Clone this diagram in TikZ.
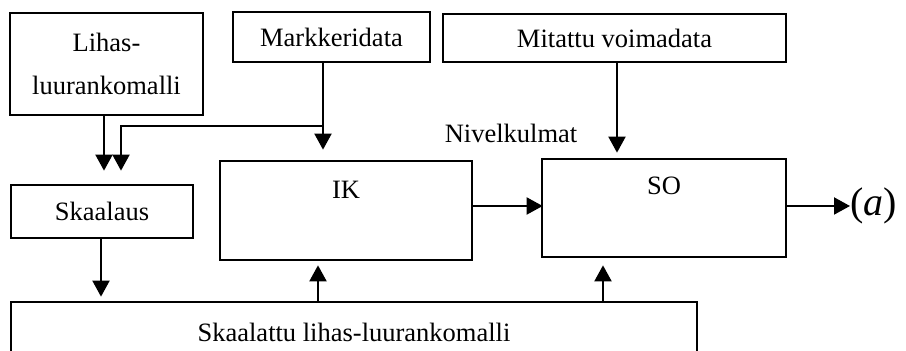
\documentclass[tikz,border=0pt]{standalone}
\usepackage{fontspec}
\setmainfont{Liberation Serif}
\usetikzlibrary{arrows.meta}
\tikzset{
  box/.style={draw, line width=0.65pt, inner sep=0pt, align=center, font=\fontsize{13.25}{21.5}\selectfont},
  arr/.style={line width=1pt, -{Triangle[width=8.5pt,length=8pt]}},
  lbl/.style={font=\fontsize{13.25}{16}\selectfont, inner sep=0pt}
}
\begin{document}
\begin{tikzpicture}[x=0.5pt,y=-0.5pt]
\clip (0,0) rectangle (906,351);
\useasboundingbox (0,0) rectangle (906,351);
\node[box, minimum width=96.5pt, minimum height=51pt] (lihas) at (106.5,64) {Lihas-\\luurankomalli};
\node[box, minimum width=98.5pt, minimum height=25pt] (mark) at (331.5,37) {Markkeridata};
\node[box, minimum width=171.5pt, minimum height=24pt] (mit) at (614.5,38) {Mitattu voimadata};
\node[box, minimum width=91pt, minimum height=26.5pt] (skaal) at (102,211.5) {Skaalaus};
\node[box, minimum width=126pt, minimum height=49.5pt,
      label={[lbl, anchor=center, yshift=-14.5pt]north:IK}] (ik) at (346,210.5) {};
\node[box, minimum width=122pt, minimum height=49pt,
      label={[lbl, anchor=center, yshift=-14pt]north:SO}] (so) at (664,208) {};
\node[box, minimum width=343pt, minimum height=30pt] (sk) at (354,332) {Skaalattu lihas-luurankomalli};
\node[lbl] (niv) at (511,133) {Nivelkulmat};
\node[inner sep=0pt, anchor=west, font=\fontsize{20}{24}\selectfont] (out) at (850,206) {(\textit{a})};

\draw[arr] ([xshift=-1.25pt]lihas.south) -- ++(0,55);
\draw[arr] ([xshift=-4.25pt]mark.south) -- ++(0,87);
\draw[arr] ([xshift=-4.25pt]mark.south) ++(0,63) -| ++(-202,45);
\draw[arr] ([xshift=1.25pt]mit.south) -- ++(0,90);
\draw[arr] ([xshift=-0.5pt]skaal.south) -- ++(0,58);
\draw[arr] ([xshift=-18pt]sk.north) -- ++(0,-36);
\draw[arr] ([xshift=124.5pt]sk.north) -- ++(0,-36);
\draw[arr] ([yshift=2.25pt]ik.east) -- ++(70,0);
\draw[arr] ([yshift=1pt]so.east) -- (out.west);
\end{tikzpicture}
\end{document}
